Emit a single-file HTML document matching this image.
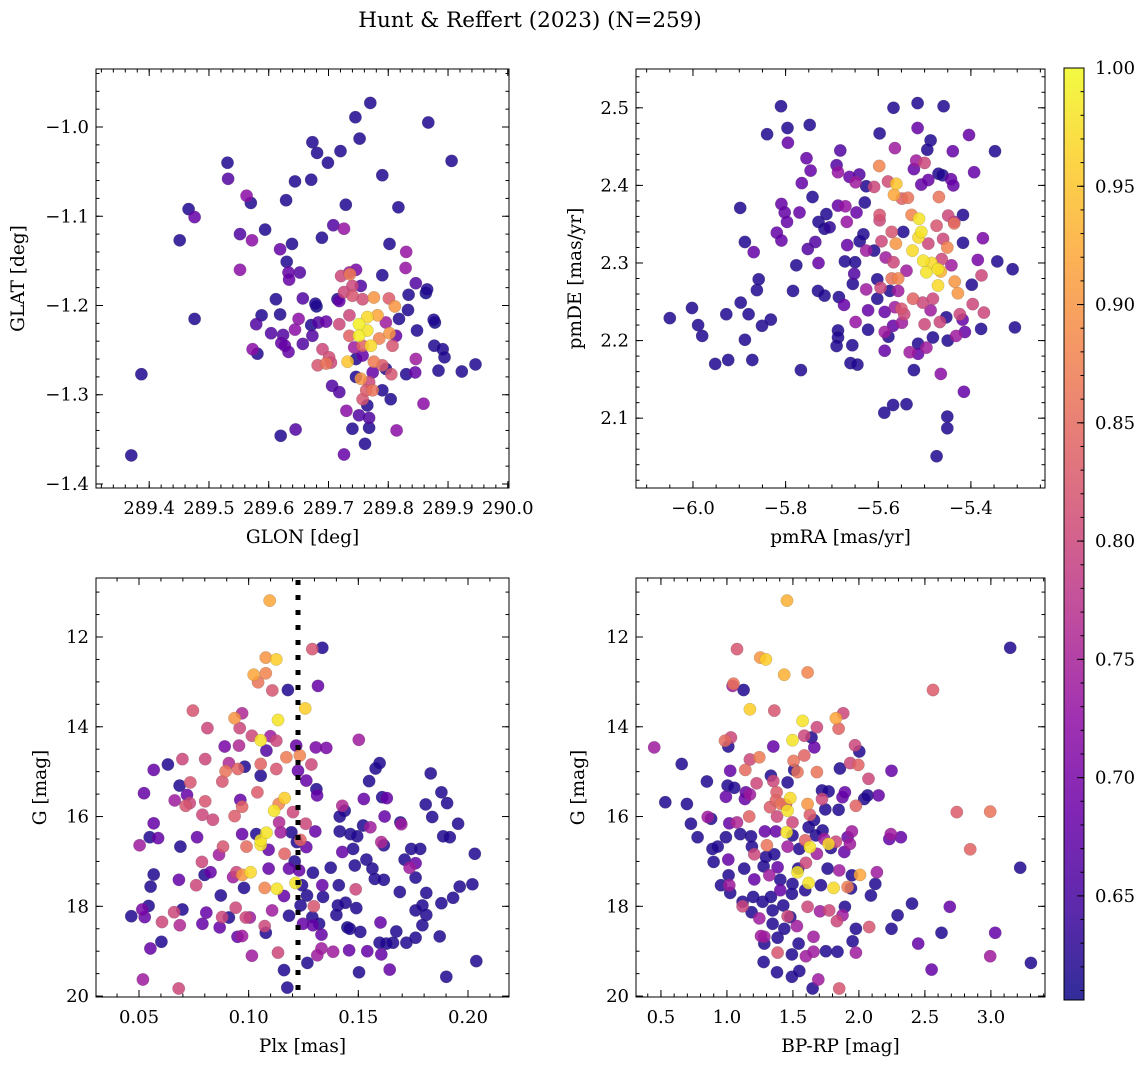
<!DOCTYPE html>
<html><head><meta charset="utf-8"><title>Hunt & Reffert (2023)</title>
<style>
html,body{margin:0;padding:0;background:#fff;}
svg{display:block;font-family:"DejaVu Serif","Liberation Serif",serif;}
</style></head>
<body>
<svg id="fig" width="1148" height="1068" viewBox="0 0 1148 1068" xmlns="http://www.w3.org/2000/svg">
<defs>
<linearGradient id="plasmaGrad" x1="0" y1="1" x2="0" y2="0">
<stop offset="0" stop-color="#0d0887"/><stop offset="0.1" stop-color="#41049d"/><stop offset="0.2" stop-color="#6a00a8"/><stop offset="0.3" stop-color="#8f0da4"/><stop offset="0.4" stop-color="#b12a90"/><stop offset="0.5" stop-color="#cc4778"/><stop offset="0.6" stop-color="#e16462"/><stop offset="0.7" stop-color="#f2844b"/><stop offset="0.8" stop-color="#fca636"/><stop offset="0.9" stop-color="#fcce25"/><stop offset="1" stop-color="#f0f921"/>
</linearGradient>
</defs>
<text x="530" y="27" font-size="21.5" text-anchor="middle">Hunt &amp; Reffert (2023) (N=259)</text>
</svg>
<script>
// ---- data: [x, y, membership probability] ----
const glonGlatProb = [
[289.770,-0.973,.62],[289.745,-0.989,.62],[289.867,-0.995,.62],[289.673,-1.017,.62],[289.681,-1.029,.62],[289.720,-1.027,.62],[289.752,-1.013,.62],[289.699,-1.040,.62],[289.906,-1.038,.62],[289.531,-1.040,.62],[289.532,-1.058,.66],[289.644,-1.061,.62],[289.671,-1.059,.62],[289.790,-1.054,.62],[289.563,-1.077,.72],[289.570,-1.085,.62],[289.629,-1.082,.62],[289.729,-1.087,.62],[289.817,-1.090,.62],[289.466,-1.092,.62],[289.476,-1.101,.68],[289.451,-1.127,.62],[289.552,-1.120,.66],[289.572,-1.127,.72],[289.594,-1.115,.62],[289.619,-1.137,.68],[289.639,-1.131,.62],[289.708,-1.110,.66],[289.726,-1.114,.73],[289.689,-1.124,.62],[289.802,-1.131,.62],[289.830,-1.140,.73],[289.829,-1.158,.73],[289.552,-1.160,.72],[289.630,-1.151,.62],[289.633,-1.163,.68],[289.634,-1.171,.68],[289.652,-1.163,.66],[289.790,-1.166,.62],[289.846,-1.175,.66],[289.865,-1.182,.62],[289.863,-1.186,.61],[289.834,-1.188,.62],[289.833,-1.205,.62],[289.612,-1.193,.62],[289.657,-1.192,.66],[289.678,-1.198,.62],[289.680,-1.201,.61],[289.588,-1.211,.62],[289.619,-1.210,.62],[289.476,-1.215,.62],[289.579,-1.221,.66],[289.650,-1.215,.72],[289.644,-1.227,.72],[289.604,-1.231,.66],[289.624,-1.233,.66],[289.621,-1.242,.68],[289.627,-1.245,.68],[289.633,-1.252,.68],[289.657,-1.243,.66],[289.671,-1.222,.62],[289.683,-1.219,.66],[289.696,-1.218,.68],[289.673,-1.234,.66],[289.573,-1.249,.72],[289.581,-1.254,.62],[289.848,-1.228,.62],[289.876,-1.216,.62],[289.878,-1.219,.61],[289.877,-1.245,.62],[289.891,-1.249,.62],[289.894,-1.258,.62],[289.884,-1.273,.62],[289.923,-1.274,.62],[289.946,-1.266,.62],[289.846,-1.260,.74],[289.845,-1.275,.68],[289.830,-1.277,.62],[289.804,-1.305,.62],[289.859,-1.310,.72],[289.814,-1.340,.72],[289.768,-1.337,.62],[289.761,-1.355,.62],[289.740,-1.338,.62],[289.726,-1.367,.68],[289.730,-1.318,.72],[289.768,-1.326,.66],[289.751,-1.323,.66],[289.706,-1.290,.66],[289.718,-1.297,.66],[289.645,-1.339,.66],[289.620,-1.346,.62],[289.387,-1.277,.62],[289.370,-1.368,.62],
[289.735,-1.163,.74],[289.746,-1.160,.70],[289.721,-1.167,.80],[289.736,-1.165,.87],[289.740,-1.178,.80],[289.754,-1.178,.66],[289.715,-1.193,.62],[289.726,-1.185,.80],[289.740,-1.189,.82],[289.757,-1.193,.81],[289.776,-1.191,.90],[289.801,-1.192,.83],[289.811,-1.201,.90],[289.782,-1.211,.92],[289.765,-1.213,.97],[289.751,-1.221,.99],[289.765,-1.228,.98],[289.751,-1.234,.99],[289.735,-1.234,.84],[289.735,-1.211,.80],[289.718,-1.221,.80],[289.802,-1.231,.90],[289.807,-1.245,.82],[289.771,-1.245,.97],[289.785,-1.237,.88],[289.757,-1.245,.84],[289.743,-1.247,.74],[289.796,-1.219,.74],[289.818,-1.215,.62],[289.813,-1.234,.68],[289.690,-1.249,.80],[289.701,-1.258,.81],[289.682,-1.267,.82],[289.696,-1.265,.86],[289.704,-1.264,.80],[289.732,-1.263,.95],[289.746,-1.260,.62],[289.757,-1.256,.68],[289.776,-1.263,.87],[289.790,-1.267,.83],[289.774,-1.275,.68],[289.796,-1.271,.62],[289.805,-1.277,.82],[289.754,-1.282,.90],[289.746,-1.280,.62],[289.768,-1.286,.80],[289.763,-1.295,.83],[289.774,-1.295,.86],[289.790,-1.295,.62],[289.757,-1.305,.82],[289.765,-1.312,.62],[289.718,-1.195,.68]
];
const pmraPmdeProb = [
[-6.050,2.229,.62],[-6.002,2.242,.62],[-5.989,2.220,.62],[-5.980,2.206,.62],[-5.952,2.170,.62],[-5.924,2.175,.62],[-5.928,2.234,.62],[-5.897,2.249,.62],[-5.888,2.201,.62],[-5.880,2.234,.62],[-5.872,2.175,.62],[-5.851,2.219,.62],[-5.832,2.227,.62],[-5.862,2.265,.62],[-5.858,2.279,.62],[-5.869,2.314,.68],[-5.888,2.327,.62],[-5.898,2.371,.62],[-5.840,2.466,.62],[-5.810,2.502,.62],[-5.796,2.474,.62],[-5.795,2.455,.68],[-5.748,2.478,.62],[-5.755,2.435,.68],[-5.746,2.419,.68],[-5.765,2.403,.68],[-5.742,2.385,.62],[-5.809,2.376,.68],[-5.802,2.365,.68],[-5.797,2.353,.68],[-5.770,2.365,.68],[-5.819,2.339,.68],[-5.809,2.329,.68],[-5.777,2.297,.62],[-5.784,2.264,.62],[-5.767,2.162,.62],[-5.752,2.318,.66],[-5.736,2.327,.66],[-5.729,2.300,.68],[-5.729,2.353,.62],[-5.712,2.363,.62],[-5.716,2.344,.62],[-5.705,2.346,.63],[-5.730,2.264,.62],[-5.716,2.258,.62],[-5.685,2.256,.62],[-5.674,2.246,.68],[-5.690,2.426,.66],[-5.682,2.445,.66],[-5.687,2.417,.73],[-5.662,2.411,.68],[-5.649,2.404,.74],[-5.641,2.414,.66],[-5.626,2.399,.62],[-5.609,2.398,.80],[-5.629,2.378,.62],[-5.687,2.374,.68],[-5.671,2.373,.73],[-5.668,2.353,.73],[-5.647,2.365,.68],[-5.667,2.323,.68],[-5.672,2.302,.62],[-5.650,2.301,.62],[-5.652,2.286,.66],[-5.655,2.273,.62],[-5.640,2.328,.62],[-5.632,2.337,.62],[-5.626,2.316,.74],[-5.609,2.316,.62],[-5.626,2.266,.74],[-5.622,2.239,.68],[-5.622,2.214,.62],[-5.649,2.224,.73],[-5.687,2.213,.62],[-5.687,2.204,.62],[-5.690,2.193,.62],[-5.656,2.194,.62],[-5.660,2.171,.62],[-5.645,2.169,.62],[-5.602,2.279,.62],[-5.602,2.254,.62],[-5.595,2.268,.80],[-5.597,2.362,.82],[-5.597,2.355,.80],[-5.598,2.425,.88],[-5.597,2.467,.62],[-5.567,2.500,.62],[-5.564,2.448,.74],[-5.579,2.405,.81],[-5.566,2.388,.92],[-5.561,2.402,.95],[-5.549,2.383,.84],[-5.536,2.384,.86],[-5.523,2.421,.68],[-5.518,2.432,.74],[-5.500,2.429,.80],[-5.515,2.506,.62],[-5.515,2.474,.68],[-5.487,2.458,.62],[-5.494,2.446,.62],[-5.459,2.502,.62],[-5.404,2.465,.68],[-5.439,2.444,.68],[-5.393,2.417,.68],[-5.348,2.444,.62],[-5.470,2.415,.62],[-5.461,2.413,.62],[-5.443,2.408,.68],[-5.438,2.400,.68],[-5.507,2.401,.68],[-5.492,2.407,.68],[-5.469,2.385,.86],[-5.528,2.362,.88],[-5.512,2.357,.98],[-5.507,2.340,.98],[-5.513,2.333,.97],[-5.526,2.316,.97],[-5.503,2.303,.98],[-5.496,2.288,.98],[-5.485,2.300,.97],[-5.471,2.292,.98],[-5.465,2.289,.93],[-5.471,2.271,.97],[-5.435,2.276,.90],[-5.428,2.261,.90],[-5.451,2.320,.88],[-5.436,2.353,.74],[-5.417,2.362,.62],[-5.417,2.326,.62],[-5.374,2.332,.70],[-5.385,2.304,.70],[-5.377,2.284,.80],[-5.343,2.302,.62],[-5.310,2.292,.62],[-5.398,2.272,.62],[-5.372,2.236,.80],[-5.396,2.247,.80],[-5.305,2.217,.62],[-5.378,2.215,.62],[-5.413,2.211,.68],[-5.424,2.234,.80],[-5.418,2.227,.68],[-5.432,2.206,.74],[-5.450,2.200,.62],[-5.453,2.230,.62],[-5.467,2.224,.80],[-5.500,2.221,.80],[-5.482,2.204,.62],[-5.487,2.239,.74],[-5.465,2.157,.72],[-5.415,2.134,.68],[-5.514,2.196,.62],[-5.496,2.191,.74],[-5.514,2.183,.68],[-5.532,2.185,.74],[-5.523,2.162,.62],[-5.474,2.051,.62],[-5.451,2.102,.62],[-5.451,2.087,.62],[-5.587,2.107,.62],[-5.568,2.117,.62],[-5.539,2.118,.62],[-5.586,2.187,.68],[-5.578,2.205,.62],[-5.586,2.211,.74],[-5.586,2.237,.68],[-5.568,2.219,.68],[-5.549,2.223,.74],[-5.544,2.234,.80],[-5.564,2.243,.74],[-5.550,2.241,.82],[-5.525,2.254,.84],[-5.504,2.249,.80],[-5.482,2.254,.80],[-5.571,2.280,.86],[-5.557,2.280,.88],[-5.539,2.290,.74],[-5.575,2.264,.62],[-5.557,2.264,.74],[-5.593,2.328,.80],[-5.571,2.340,.82],[-5.562,2.325,.90],[-5.546,2.340,.62],[-5.584,2.307,.74],[-5.567,2.301,.80],[-5.492,2.325,.80],[-5.474,2.348,.82],[-5.460,2.331,.80],[-5.449,2.361,.80],[-5.436,2.351,.86],[-5.463,2.305,.80],[-5.442,2.297,.74]
];
const plxGProb = [
[0.1096,11.19,.92],[0.1078,12.46,.90],[0.1126,12.50,.96],[0.1023,12.84,.92],[0.1078,12.81,.88],[0.1043,13.01,.86],[0.1108,13.19,.82],[0.1179,13.18,.62],[0.1290,12.27,.82],[0.1336,12.24,.62],[0.1316,13.09,.68],[0.1258,13.59,.96],[0.1134,13.85,.98],[0.0746,13.64,.82],[0.0970,13.70,.76],[0.0936,13.81,.90],[0.0959,14.03,.80],[0.0812,14.03,.80],[0.1015,14.20,.80],[0.1055,14.30,.98],[0.1099,14.21,.74],[0.1126,14.31,.80],[0.1081,14.53,.66],[0.1217,14.42,.68],[0.1306,14.46,.70],[0.1354,14.47,.70],[0.0891,14.44,.70],[0.0956,14.42,.76],[0.1502,14.29,.74],[0.0698,14.72,.80],[0.0802,14.72,.80],[0.0632,14.84,.62],[0.0567,14.96,.68],[0.0910,14.81,.76],[0.0895,14.99,.86],[0.0951,14.94,.84],[0.0982,14.89,.62],[0.1055,14.83,.84],[0.1126,14.94,.82],[0.1172,14.68,.87],[0.1233,14.64,.88],[0.1286,14.84,.80],[0.1055,15.09,.62],[0.1225,14.98,.68],[0.0880,15.22,.82],[0.0734,15.24,.82],[0.0685,15.31,.62],[0.1263,15.20,.68],[0.1309,15.39,.62],[0.1312,15.53,.68],[0.1579,14.93,.62],[0.1597,14.81,.62],[0.1549,15.21,.62],[0.1830,15.04,.62],[0.1879,15.46,.62],[0.1905,15.70,.62],[0.1807,15.73,.62],[0.1837,16.01,.62],[0.1955,16.16,.62],[0.1887,16.44,.62],[0.1917,16.46,.62],[0.2031,16.83,.62],[0.2020,17.51,.62],[0.1962,17.56,.62],[0.1932,17.81,.62],[0.1879,17.93,.62],[0.1810,17.70,.62],[0.1761,17.36,.62],[0.1761,17.04,.68],[0.1734,17.14,.74],[0.1711,16.96,.62],[0.1741,16.72,.62],[0.1782,16.72,.62],[0.1692,16.13,.62],[0.1696,16.17,.74],[0.1620,16.00,.68],[0.1609,15.57,.62],[0.1630,15.59,.68],[0.1525,15.61,.68],[0.1427,15.76,.76],[0.1438,15.87,.62],[0.1415,16.00,.62],[0.1522,16.20,.62],[0.1555,16.24,.74],[0.1415,16.33,.62],[0.1464,16.39,.62],[0.1495,16.44,.62],[0.1605,16.57,.76],[0.1616,16.64,.62],[0.1476,16.72,.62],[0.1427,16.79,.68],[0.1537,16.96,.62],[0.1484,17.09,.62],[0.1564,17.16,.62],[0.1575,17.39,.62],[0.1616,17.41,.62],[0.1689,17.68,.62],[0.1761,18.09,.62],[0.1792,17.98,.62],[0.1810,18.19,.62],[0.1792,18.42,.62],[0.1871,18.67,.62],[0.1761,18.70,.62],[0.1719,18.81,.62],[0.1673,18.56,.62],[0.1658,18.81,.62],[0.1628,18.83,.62],[0.1597,18.81,.62],[0.1601,18.36,.68],[0.1605,19.07,.68],[0.1643,19.41,.68],[0.1901,19.57,.62],[0.2038,19.22,.62],[0.1503,19.47,.62],[0.1541,19.00,.68],[0.1458,18.98,.68],[0.1385,19.01,.74],[0.1332,18.94,.74],[0.1313,19.09,.74],[0.1268,19.26,.62],[0.1461,18.50,.62],[0.1450,18.47,.61],[0.1509,18.57,.62],[0.1491,18.04,.62],[0.1442,17.92,.62],[0.1407,17.98,.62],[0.1400,18.19,.62],[0.1411,17.53,.62],[0.1488,17.62,.80],[0.1339,17.79,.62],[0.1336,17.53,.68],[0.1374,17.14,.62],[0.1293,17.25,.62],[0.1266,17.76,.62],[0.1237,17.98,.62],[0.1297,18.00,.82],[0.1290,18.24,.62],[0.1321,18.39,.62],[0.1293,18.42,.68],[0.1332,18.63,.68],[0.1248,18.39,.68],[0.1184,18.21,.62],[0.1161,17.77,.68],[0.1161,19.42,.62],[0.1176,19.81,.62],[0.1134,19.03,.80],[0.1107,18.09,.74],[0.1078,18.59,.62],[0.1073,18.44,.80],[0.1129,17.61,.98],[0.1073,17.59,.88],[0.0979,17.59,.62],[0.1009,17.24,.97],[0.0971,17.30,.90],[0.0944,17.24,.80],[0.0929,17.35,.74],[0.1091,17.16,.68],[0.1184,17.16,.68],[0.1230,17.20,.68],[0.1214,17.48,.98],[0.1243,17.53,.62],[0.1164,16.83,.84],[0.1091,16.74,.68],[0.1055,16.63,.98],[0.1055,16.53,.98],[0.1081,16.36,.98],[0.1035,16.39,.62],[0.0990,16.67,.85],[0.0970,16.39,.68],[0.1146,16.35,.74],[0.1195,16.35,.62],[0.1236,16.52,.84],[0.1263,16.68,.68],[0.1220,16.57,.62],[0.1304,16.33,.68],[0.1260,16.16,.80],[0.1202,15.90,.80],[0.1139,16.13,.76],[0.1116,15.87,.98],[0.1137,15.72,.88],[0.1164,15.59,.96],[0.1040,15.46,.83],[0.0962,15.63,.68],[0.0970,15.78,.84],[0.0936,15.99,.83],[0.0837,16.07,.80],[0.0789,15.96,.80],[0.0802,15.66,.82],[0.0731,15.70,.80],[0.0713,15.76,.82],[0.0663,15.64,.74],[0.0719,15.52,.68],[0.0523,15.48,.68],[0.0567,16.15,.68],[0.0549,16.46,.62],[0.0587,16.48,.68],[0.0503,16.64,.74],[0.0689,16.67,.62],[0.0765,16.46,.68],[0.0883,16.67,.82],[0.0865,16.85,.74],[0.0787,17.01,.80],[0.0799,17.30,.62],[0.0826,17.24,.68],[0.0567,17.29,.62],[0.0682,17.41,.68],[0.0553,17.56,.62],[0.0761,17.53,.80],[0.0873,17.76,.62],[0.0544,17.99,.62],[0.0515,18.07,.70],[0.0465,18.22,.62],[0.0526,18.24,.68],[0.0698,18.07,.62],[0.0660,18.13,.80],[0.0605,18.35,.80],[0.0686,18.42,.76],[0.0807,18.14,.68],[0.0789,18.39,.68],[0.0868,18.47,.68],[0.0879,18.24,.80],[0.0910,18.25,.62],[0.0941,18.03,.80],[0.0987,18.25,.80],[0.1005,18.25,.74],[0.0949,18.68,.68],[0.0970,18.66,.74],[0.1015,19.10,.74],[0.0602,18.79,.62],[0.0552,18.94,.68],[0.0518,19.63,.74],[0.0681,19.83,.80],[0.1210,17.00,.62]
];
const bprpGProb = [
[1.455,11.19,.93],[1.076,12.27,.82],[1.253,12.46,.90],[1.295,12.50,.96],[1.434,12.84,.93],[1.611,12.79,.88],[1.050,13.04,.86],[1.043,13.09,.74],[1.126,13.18,.62],[1.174,13.61,.96],[1.359,13.64,.82],[1.573,13.87,.98],[1.826,13.81,.92],[1.881,13.70,.80],[1.846,14.04,.84],[1.682,14.01,.80],[2.561,13.18,.83],[3.146,12.24,.62],[0.449,14.46,.74],[0.657,14.83,.62],[0.848,15.22,.62],[0.533,15.68,.62],[0.697,15.72,.62],[0.727,16.16,.62],[0.778,16.46,.62],[0.854,16.01,.74],[0.880,16.05,.62],[0.899,17.01,.62],[0.891,16.72,.62],[0.930,16.67,.62],[0.992,16.46,.62],[1.010,16.96,.68],[1.025,14.98,.68],[0.985,14.31,.85],[1.030,14.24,.80],[1.010,14.44,.62],[1.005,15.31,.62],[1.056,15.36,.62],[0.992,15.56,.68],[1.018,16.15,.68],[1.076,16.13,.76],[1.101,16.39,.62],[1.131,17.16,.62],[1.144,15.46,.68],[1.174,15.51,.74],[1.136,15.61,.68],[1.169,16.00,.84],[1.182,16.44,.62],[1.189,16.67,.62],[1.207,16.84,.80],[1.139,14.96,.85],[1.174,14.73,.80],[1.245,14.68,.87],[1.225,15.26,.80],[1.207,17.40,.68],[1.013,17.31,.62],[0.955,17.53,.62],[1.018,17.53,.74],[1.025,17.70,.62],[1.119,17.90,.62],[1.119,18.00,.80],[1.199,17.79,.62],[1.187,18.13,.62],[1.245,18.27,.74],[1.270,17.90,.62],[1.283,18.68,.74],[1.258,18.66,.74],[1.283,18.83,.62],[1.278,19.24,.62],[1.379,19.47,.62],[1.384,19.03,.82],[1.384,18.70,.62],[1.346,18.39,.62],[1.346,18.09,.62],[1.333,17.79,.62],[1.278,17.11,.62],[1.321,17.31,.74],[1.295,16.90,.62],[1.303,16.64,.86],[1.359,16.84,.62],[1.384,17.13,.68],[1.404,17.41,.62],[1.404,17.64,.68],[1.427,17.98,.62],[1.460,18.22,.80],[1.435,18.50,.62],[1.480,18.24,.62],[1.530,18.44,.74],[1.543,18.83,.62],[1.492,19.07,.62],[1.492,19.57,.62],[1.548,19.44,.62],[1.649,19.83,.62],[1.692,19.63,.74],[1.598,19.11,.74],[1.656,19.01,.74],[1.656,18.68,.74],[1.705,18.11,.74],[1.611,18.01,.80],[1.775,18.09,.80],[1.833,18.33,.80],[1.876,18.20,.74],[1.894,18.01,.62],[1.952,18.78,.62],[1.977,19.03,.74],[1.838,19.01,.62],[1.750,19.00,.62],[1.851,19.83,.82],[1.977,18.50,.62],[2.078,18.46,.82],[2.247,18.50,.62],[2.293,18.20,.62],[2.402,17.94,.62],[2.449,18.83,.68],[2.551,19.41,.68],[2.626,18.59,.62],[2.689,18.01,.68],[3.033,18.59,.68],[2.995,19.11,.74],[3.303,19.26,.62],[3.222,17.14,.62],[2.742,15.90,.83],[2.995,15.89,.86],[2.843,16.73,.84],[2.247,14.98,.68],[2.242,16.39,.74],[2.230,16.50,.68],[2.318,16.46,.68],[2.136,17.24,.74],[2.124,17.50,.62],[2.091,17.76,.62],[2.008,17.30,.92],[1.914,17.57,.87],[1.940,17.60,.62],[1.947,17.31,.62],[1.851,17.20,.74],[1.808,17.59,.97],[1.712,17.53,.62],[1.763,17.16,.62],[1.619,17.48,.98],[1.593,17.64,.62],[1.535,17.24,.98],[1.598,17.03,.80],[1.540,17.16,.62],[1.497,17.50,.62],[1.492,17.72,.62],[1.460,16.67,.74],[1.452,16.35,.98],[1.497,16.42,.62],[1.548,16.72,.62],[1.593,16.53,.84],[1.629,16.68,.98],[1.682,16.83,.74],[1.737,16.50,.74],[1.770,16.61,.97],[1.788,16.70,.62],[1.826,16.56,.80],[1.889,16.79,.68],[1.932,16.61,.74],[1.947,16.33,.74],[1.914,16.46,.68],[1.725,16.31,.62],[1.674,16.42,.62],[1.619,16.24,.62],[1.497,16.13,.80],[1.460,15.87,.98],[1.480,15.59,.97],[1.611,15.72,.90],[1.629,15.96,.83],[1.660,16.08,.62],[1.379,16.00,.80],[1.371,16.33,.68],[1.288,16.33,.68],[1.326,15.79,.83],[1.371,15.64,.84],[1.376,15.46,.83],[1.447,15.74,.80],[1.410,15.72,.86],[1.460,15.24,.62],[1.333,15.09,.62],[1.351,15.21,.80],[1.505,14.76,.86],[1.535,15.01,.86],[1.510,14.96,.62],[1.586,14.64,.84],[1.662,14.46,.68],[1.641,14.24,.62],[1.586,14.20,.80],[1.497,14.30,.98],[1.351,14.44,.68],[1.682,15.01,.86],[1.720,15.61,.80],[1.745,15.84,.62],[1.720,15.42,.62],[1.770,15.44,.62],[1.846,15.85,.62],[1.876,15.57,.68],[1.894,15.46,.68],[1.856,14.93,.62],[1.934,14.81,.80],[1.995,14.85,.84],[1.970,14.41,.80],[2.003,14.55,.62],[2.073,15.16,.80],[2.040,15.61,.62],[2.066,15.53,.62],[2.149,15.53,.68],[1.977,15.76,.84]
];
const p1XTicks = [289.4,289.5,289.6,289.7,289.8,289.9,290.0];
const p1XLabels = ["289.4","289.5","289.6","289.7","289.8","289.9","290.0"];
const p1YTicks = [-1.4,-1.3,-1.2,-1.1,-1.0];
const p1YLabels = ["\u22121.4","\u22121.3","\u22121.2","\u22121.1","\u22121.0"];
const p2XTicks = [-6.0,-5.8,-5.6,-5.4];
const p2XLabels = ["\u22126.0","\u22125.8","\u22125.6","\u22125.4"];
const p2YTicks = [2.1,2.2,2.3,2.4,2.5];
const p2YLabels = ["2.1","2.2","2.3","2.4","2.5"];
const p3XTicks = [0.05,0.10,0.15,0.20];
const p3XLabels = ["0.05","0.10","0.15","0.20"];
const gTicks = [12,14,16,18,20];
const gLabels = ["12","14","16","18","20"];
const p4XTicks = [0.5,1.0,1.5,2.0,2.5,3.0];
const p4XLabels = ["0.5","1.0","1.5","2.0","2.5","3.0"];
const cbTicks = [0.65,0.70,0.75,0.80,0.85,0.90,0.95,1.00];
const cbLabels = ["0.65","0.70","0.75","0.80","0.85","0.90","0.95","1.00"];
const plxCut = [0.1225];
const cMin = 0.606, cMax = 1.0;

const NS = "http://www.w3.org/2000/svg";
const svg = document.getElementById('fig');
const TICKFS = 18, LABFS = 18.5;
function mk(tag, attrs, parent){ const e=document.createElementNS(NS,tag); for(const k in attrs) e.setAttribute(k,attrs[k]); (parent||svg).appendChild(e); return e; }
const stops=[[0,13,8,135],[.1,65,4,157],[.2,106,0,168],[.3,143,13,164],[.4,177,42,144],[.5,204,71,120],[.6,225,100,98],[.7,242,132,75],[.8,252,166,54],[.9,252,206,37],[1,240,249,33]];
function plasma(v){ let t=(v-cMin)/(cMax-cMin); t=Math.max(0,Math.min(1,t)); for(let i=1;i<stops.length;i++){ if(t<=stops[i][0]){ const a=stops[i-1],b=stops[i],f=(t-a[0])/(b[0]-a[0]); return `rgb(${Math.round(a[1]+f*(b[1]-a[1]))},${Math.round(a[2]+f*(b[2]-a[2]))},${Math.round(a[3]+f*(b[3]-a[3]))})`; } } return 'rgb(240,249,33)'; }
function lin(d0,d1,r0,r1){ return v=>r0+(v-d0)/(d1-d0)*(r1-r0); }

function panel(cfg){
  const g = mk('g',{});
  
  
  const X = lin(cfg.xd[0],cfg.xd[1],cfg.x0,cfg.x1);
  const Y = lin(cfg.yd[0],cfg.yd[1],cfg.y1,cfg.y0);
  const clipId = cfg.name+'-clip';
  const cp = mk('clipPath',{id:clipId},g); mk('rect',{x:cfg.x0,y:cfg.y0,width:cfg.x1-cfg.x0,height:cfg.y1-cfg.y0},cp);
  const pts = mk('g',{'clip-path':`url(#${clipId})`},g);
  
  
  const sorted = cfg.data.slice().sort((a,b)=>a[2]-b[2]);
  sorted.forEach(d=>{
    const c = mk('circle',{cx:X(d[0]).toFixed(1),cy:Y(d[1]).toFixed(1),r:6.2,fill:plasma(d[2]),'fill-opacity':0.85,stroke:'rgba(90,90,90,0.35)','stroke-width':0.5},pts);
    
    
  });
  if(cfg.vline){ cfg.vline.forEach(v=>{ const l=mk('line',{x1:X(v),x2:X(v),y1:cfg.y0+2,y2:cfg.y1,stroke:'#000','stroke-width':5,'stroke-dasharray':'5,10'},g);
    
     }); }
  const fr = mk('rect',{x:cfg.x0,y:cfg.y0,width:cfg.x1-cfg.x0,height:cfg.y1-cfg.y0,fill:'none',stroke:'#000','stroke-width':1},g);
  
  
  const xlo=Math.min(...cfg.xd), xhi=Math.max(...cfg.xd), ylo=Math.min(...cfg.yd), yhi=Math.max(...cfg.yd);
  for(let v=Math.ceil(xlo/cfg.xminor)*cfg.xminor; v<=xhi; v+=cfg.xminor){ const x=X(v); mk('line',{x1:x,x2:x,y1:cfg.y1,y2:cfg.y1-3.5,stroke:'#000'},g); mk('line',{x1:x,x2:x,y1:cfg.y0,y2:cfg.y0+3.5,stroke:'#000'},g); }
  for(let v=Math.ceil(ylo/cfg.yminor)*cfg.yminor; v<=yhi; v+=cfg.yminor){ const y=Y(v); mk('line',{x1:cfg.x0,x2:cfg.x0+3.5,y1:y,y2:y,stroke:'#000'},g); mk('line',{x1:cfg.x1,x2:cfg.x1-3.5,y1:y,y2:y,stroke:'#000'},g); }
  cfg.xt.forEach((v,i)=>{ const x=X(v); mk('line',{x1:x,x2:x,y1:cfg.y1,y2:cfg.y1-7,stroke:'#000'},g); mk('line',{x1:x,x2:x,y1:cfg.y0,y2:cfg.y0+7,stroke:'#000'},g);
    const t=mk('text',{x:x,y:cfg.y1+26,'font-size':TICKFS,'text-anchor':'middle'},g); t.textContent=cfg.xl[i];
    
     });
  cfg.yt.forEach((v,i)=>{ const y=Y(v); mk('line',{x1:cfg.x0,x2:cfg.x0+7,y1:y,y2:y,stroke:'#000'},g); mk('line',{x1:cfg.x1,x2:cfg.x1-7,y1:y,y2:y,stroke:'#000'},g);
    const t=mk('text',{x:cfg.x0-7,y:y+6,'font-size':TICKFS,'text-anchor':'end'},g); t.textContent=cfg.yl[i];
    
     });
  const xt=mk('text',{x:(cfg.x0+cfg.x1)/2,y:cfg.y1+55,'font-size':LABFS,'text-anchor':'middle'},g); xt.textContent=cfg.xlabel;
  
  
  const yt=mk('text',{x:0,y:0,'font-size':LABFS,'text-anchor':'middle',transform:`translate(${cfg.ylx},${(cfg.y0+cfg.y1)/2}) rotate(-90)`},g); yt.textContent=cfg.ylabel;
  
  
}

panel({name:'sky-position-panel',x0:96,x1:509,y0:69,y1:488,xd:[289.311,290.002],yd:[-1.4045,-0.935],data:glonGlatProb,xt:p1XTicks,xl:p1XLabels,yt:p1YTicks,yl:p1YLabels,xminor:0.02,yminor:0.02,xlabel:'GLON [deg]',ylabel:'GLAT [deg]',ylx:24});
panel({name:'proper-motion-panel',x0:636,x1:1045,y0:69,y1:488,xd:[-6.123,-5.240],yd:[2.010,2.550],data:pmraPmdeProb,xt:p2XTicks,xl:p2XLabels,yt:p2YTicks,yl:p2YLabels,xminor:0.05,yminor:0.02,xlabel:'pmRA [mas/yr]',ylabel:'pmDE [mas/yr]',ylx:581});
panel({name:'parallax-magnitude-panel',x0:96,x1:509,y0:578,y1:997,xd:[0.0304,0.2187],yd:[20.02,10.686],data:plxGProb,xt:p3XTicks,xl:p3XLabels,yt:gTicks,yl:gLabels,xminor:0.01,yminor:0.5,xlabel:'Plx [mas]',ylabel:'G [mag]',ylx:46,vline:plxCut});
panel({name:'cmd-panel',x0:636,x1:1045,y0:578,y1:997,xd:[0.311,3.41],yd:[20.02,10.686],data:bprpGProb,xt:p4XTicks,xl:p4XLabels,yt:gTicks,yl:gLabels,xminor:0.1,yminor:0.5,xlabel:'BP-RP [mag]',ylabel:'G [mag]',ylx:584});

(function(){
  const g=mk('g',{});
  
  
  const x0=1064,x1=1084,y0=68,y1=1000;
  const Y=lin(cMin,cMax,y1,y0);
  mk('rect',{x:x0,y:y0,width:x1-x0,height:y1-y0,fill:'url(#plasmaGrad)','fill-opacity':0.85},g);
  mk('rect',{x:x0,y:y0,width:x1-x0,height:y1-y0,fill:'none',stroke:'#000'},g);
  for(let v=0.61; v<=1.0001; v+=0.01){ const y=Y(v); mk('line',{x1:x1,x2:x1-3.5,y1:y,y2:y,stroke:'#000'},g); }
  cbTicks.forEach((v,i)=>{ const y=Y(v); mk('line',{x1:x1,x2:x1-7,y1:y,y2:y,stroke:'#000'},g);
    const t=mk('text',{x:x1+11,y:y+6,'font-size':TICKFS},g); t.textContent=cbLabels[i];
    
     });
})();
</script>
</body></html>
